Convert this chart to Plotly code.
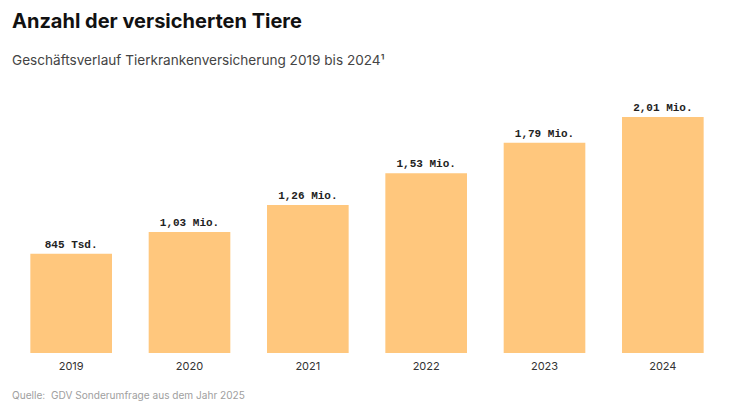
import plotly.graph_objects as go

years = ["2019", "2020", "2021", "2022", "2023", "2024"]
values = [0.845, 1.03, 1.26, 1.53, 1.79, 2.01]
labels = ["845 Tsd.", "1,03 Mio.", "1,26 Mio.", "1,53 Mio.", "1,79 Mio.", "2,01 Mio."]

W, H = 735, 413
OFF = 8  # page body margin offset
L, R, T, B = 12 - OFF, 21, 100 - OFF, 413 - (352.7 - OFF)
pw, ph = W - L - R, H - T - B

def xpix(px):
    return (px - OFF - L) / pw

def ypix(py):
    return (H - B - (py - OFF)) / ph

fig = go.Figure(go.Bar(
    x=years, y=values, text=["<b>" + t + "</b>" for t in labels], textposition="outside",
    textfont=dict(family="Liberation Mono", size=11, color="#222222"),
    marker=dict(color="#FFC77D", line=dict(width=0)),
    cliponaxis=False, hoverinfo="skip",
))

fig.update_layout(
    width=W, height=H,
    margin=dict(l=L, r=R, t=T, b=B, autoexpand=False),
    paper_bgcolor="white", plot_bgcolor="white",
    bargap=0.31, showlegend=False,
    xaxis=dict(showgrid=False, showline=False, zeroline=False, ticks="", automargin=False,
               ticklabelstandoff=5,
               tickfont=dict(family="Inter", size=11, color="#333333")),
    yaxis=dict(visible=False, range=[0, 2.154], automargin=False),
    annotations=[
        dict(text="<b>Anzahl der versicherten Tiere</b>", x=xpix(10), y=ypix(21),
             xref="paper", yref="paper",
             showarrow=False, xanchor="left", yanchor="middle",
             font=dict(family="Inter", size=20, color="#111111")),
        dict(text="Geschäftsverlauf Tierkrankenversicherung 2019 bis 2024¹",
             x=xpix(10), y=ypix(60), xref="paper", yref="paper",
             showarrow=False, xanchor="left", yanchor="middle",
             font=dict(family="Inter", size=13.6, color="#444444")),
        dict(text="Quelle:  GDV Sonderumfrage aus dem Jahr 2025",
             x=xpix(10), y=ypix(395), xref="paper", yref="paper",
             showarrow=False, xanchor="left", yanchor="middle",
             font=dict(family="Inter", size=10.1, color="#a0a0a0")),
    ],
)

fig.write_html("out.html")
